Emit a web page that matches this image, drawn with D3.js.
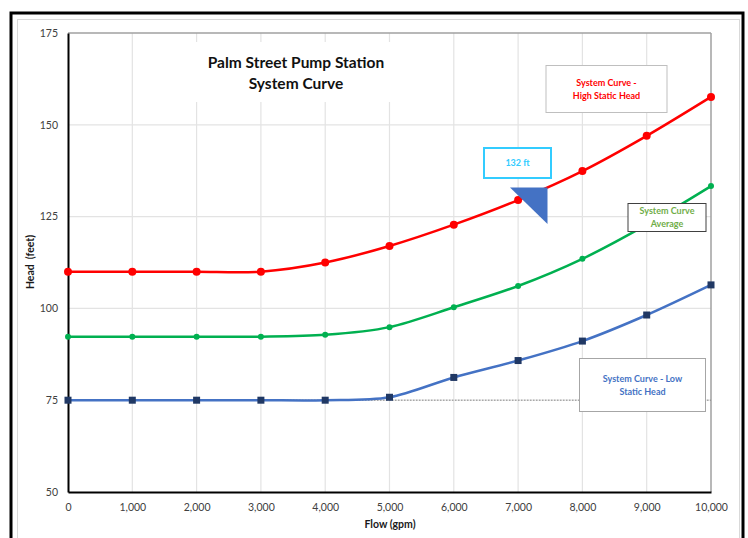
<!DOCTYPE html>
<html>
<head>
<meta charset="utf-8">
<script src="https://cdn.jsdelivr.net/npm/d3@7"></script>
<style>
  html, body { margin: 0; padding: 0; background: #fff; }
  svg { display: block; font-family: Lato, "Open Sans", sans-serif; }
</style>
</head>
<body>
<svg id="chart" width="748" height="538"></svg>
<script>
// Flow points (gpm)
const flows = [0, 1000, 2000, 3000, 4000, 5000, 6000, 7000, 8000, 9000, 10000];
// Head (feet) for each system curve
const highHead = [110, 110, 110, 110, 112.5, 117, 122.8, 129.5, 137.4, 147, 157.6];
const avgHead  = [92.3, 92.3, 92.3, 92.3, 92.8, 94.9, 100.3, 106.1, 113.5, 122.8, 133.3];
const lowHead  = [75, 75, 75, 75, 75, 75.8, 81.2, 85.8, 91.1, 98.2, 106.4];
const xTicks = [0, 1000, 2000, 3000, 4000, 5000, 6000, 7000, 8000, 9000, 10000];
const yTicks = [50, 75, 100, 125, 150, 175];
const staticLine = 75;
const calloutText = "132 ft";

const svg = d3.select("#chart");

// outer frame and inner chart-area border
svg.append("rect").attr("x", 11).attr("y", 13).attr("width", 732).attr("height", 540)
  .attr("fill", "#fff").attr("stroke", "#000").attr("stroke-width", 3);
svg.append("rect").attr("x", 17.5).attr("y", 19.5).attr("width", 722).attr("height", 530)
  .attr("fill", "none").attr("stroke", "#d9d9d9").attr("stroke-width", 1);

const x = d3.scaleLinear().domain([0, 10000]).range([68, 711]);
const y = d3.scaleLinear().domain([50, 175]).range([492, 33]);

const g = svg.append("g");

// gridlines
g.selectAll("line.vg").data(xTicks.slice(1, -1)).join("line")
  .attr("x1", d => x(d)).attr("x2", d => x(d)).attr("y1", y(175)).attr("y2", y(50))
  .attr("stroke", "#e3e3e3").attr("stroke-width", 1.2);
g.selectAll("line.hg").data(yTicks.slice(1, -1)).join("line")
  .attr("x1", x(0)).attr("x2", x(10000)).attr("y1", d => y(d)).attr("y2", d => y(d))
  .attr("stroke", "#e3e3e3").attr("stroke-width", 1.2);

// plot border top/right
g.append("line").attr("x1", x(0)).attr("x2", x(10000)).attr("y1", y(175)).attr("y2", y(175))
  .attr("stroke", "#a0a0a0").attr("stroke-width", 1.5);
g.append("line").attr("x1", x(10000)).attr("x2", x(10000)).attr("y1", y(175)).attr("y2", y(50))
  .attr("stroke", "#a0a0a0").attr("stroke-width", 1.5);

// axes
const yAxis = d3.axisLeft(y).tickValues(yTicks).tickSize(0).tickPadding(10);
const xAxis = d3.axisBottom(x).tickValues(xTicks).tickSize(0).tickPadding(12)
  .tickFormat(d3.format(","));
const ya = g.append("g").attr("transform", `translate(${x(0)},0)`).call(yAxis);
const xa = g.append("g").attr("transform", `translate(0,${y(50)})`).call(xAxis);
[ya, xa].forEach(a => {
  a.select(".domain").attr("stroke", "#000").attr("stroke-width", 2);
  a.selectAll("text").attr("fill", "#404040").style("font-size", "10.5px")
    .style("font-family", "Lato, sans-serif");
});

// title box
g.append("rect").attr("x", 186).attr("y", 42).attr("width", 220).attr("height", 60).attr("fill", "#fff");
const title = g.append("text").attr("text-anchor", "middle")
  .style("font-weight", "bold").style("font-size", "15.5px").attr("fill", "#111");
title.append("tspan").attr("x", 296).attr("y", 68).text("Palm Street Pump Station");
title.append("tspan").attr("x", 296).attr("y", 89).text("System Curve");

// axis titles
g.append("text").attr("x", 390).attr("y", 528).attr("text-anchor", "middle")
  .style("font-weight", "bold").style("font-size", "10.5px").attr("fill", "#1a1a1a").text("Flow (gpm)");
g.append("text").attr("transform", "translate(34,262) rotate(-90)").attr("text-anchor", "middle")
  .style("font-weight", "bold").style("font-size", "10.5px").attr("fill", "#1a1a1a")
  .attr("xml:space", "preserve").text("Head  (feet)");

// static head reference line
g.append("line").attr("x1", x(0)).attr("x2", x(10000)).attr("y1", y(staticLine)).attr("y2", y(staticLine))
  .attr("stroke", "#8c8c8c").attr("stroke-width", 1).attr("stroke-dasharray", "1.5,1.5");

const line = d3.line().x(d => x(d[0])).y(d => y(d[1])).curve(d3.curveCardinal.tension(0.1));
const zip = arr => flows.map((f, i) => [f, arr[i]]);

// curves
g.append("path").datum(zip(lowHead)).attr("d", line).attr("fill", "none")
  .attr("stroke", "#4472C4").attr("stroke-width", 2.5);
g.append("path").datum(zip(avgHead)).attr("d", line).attr("fill", "none")
  .attr("stroke", "#00B050").attr("stroke-width", 2.5);
g.append("path").datum(zip(highHead)).attr("d", line).attr("fill", "none")
  .attr("stroke", "#FF0000").attr("stroke-width", 2.5);

// markers
g.selectAll("rect.lm").data(zip(lowHead)).join("rect")
  .attr("x", d => x(d[0]) - 3.5).attr("y", d => y(d[1]) - 3.5).attr("width", 7).attr("height", 7)
  .attr("fill", "#203864");
g.selectAll("circle.am").data(zip(avgHead)).join("circle")
  .attr("cx", d => x(d[0])).attr("cy", d => y(d[1])).attr("r", 3).attr("fill", "#00B050");
g.selectAll("circle.hm").data(zip(highHead)).join("circle")
  .attr("cx", d => x(d[0])).attr("cy", d => y(d[1])).attr("r", 4).attr("fill", "#FF0000");

// labels
function labelBox(x0, y0, w, h, stroke, sw, color, lines) {
  g.append("rect").attr("x", x0).attr("y", y0).attr("width", w).attr("height", h)
    .attr("fill", "#fff").attr("stroke", stroke).attr("stroke-width", sw);
  const t = g.append("text").attr("text-anchor", "middle").attr("fill", color)
    .style("font-weight", "bold").style("font-size", "9px");
  const lh = 13;
  const top = y0 + h / 2 - (lines.length - 1) * lh / 2 + 3;
  lines.forEach((s, i) => t.append("tspan").attr("x", x0 + w / 2).attr("y", top + i * lh).text(s));
}
labelBox(546, 65.5, 121, 47, "#bfbfbf", 1, "#FF0000", ["System Curve -", "High Static Head"]);
labelBox(628, 203.5, 78, 28, "#404040", 1, "#70AD47", ["System Curve", "Average"]);
labelBox(579.5, 358.5, 126, 53, "#a6a6a6", 1, "#4472C4", ["System Curve - Low", "Static Head"]);
labelBox(484, 148, 67, 30, "#33CCFF", 2, "#33CCFF", [calloutText]);

// callout pointer
g.append("path").attr("d", "M510,187.5 L547.5,187.5 L547.5,224 Z").attr("fill", "#4472C4");
</script>
</body>
</html>
